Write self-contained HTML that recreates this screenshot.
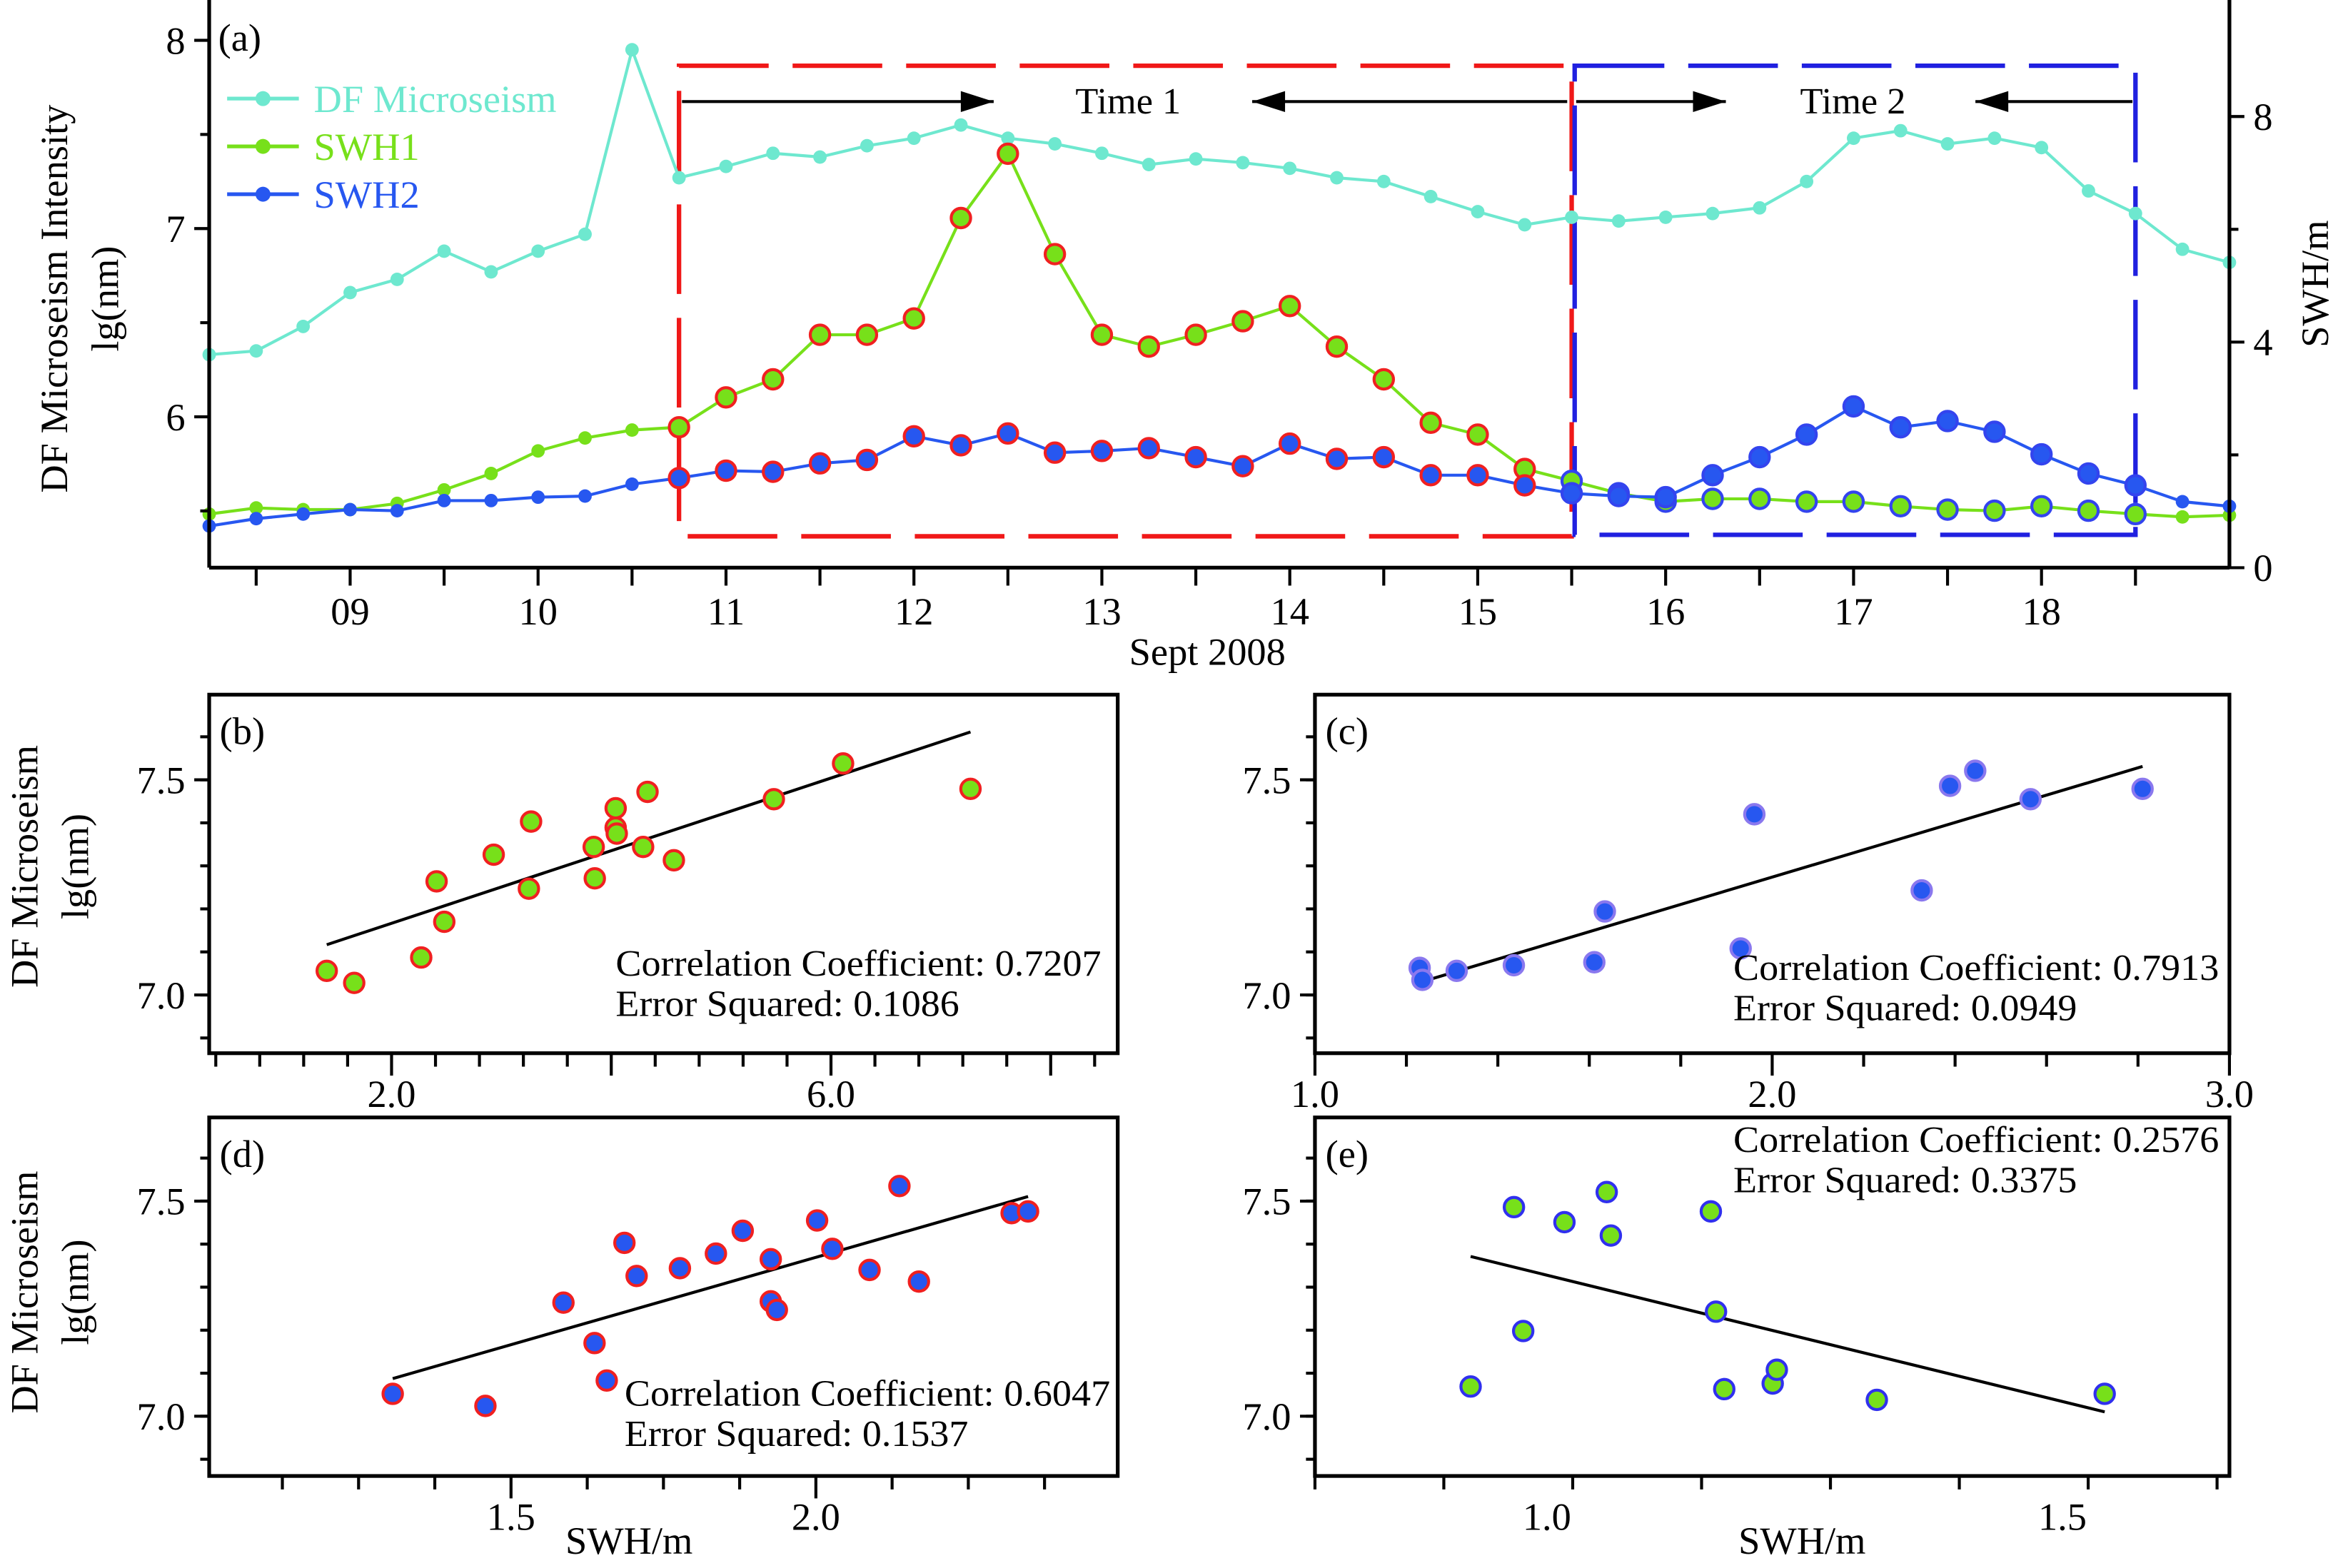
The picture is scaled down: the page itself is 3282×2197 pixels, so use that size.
<!DOCTYPE html>
<html><head><meta charset="utf-8"><style>
html,body{margin:0;padding:0;background:#fff;}
svg{display:block;font-family:"Liberation Serif",serif;}
</style></head><body>
<svg id="fig" width="3282" height="2197" viewBox="0 0 1568 1049.6" preserveAspectRatio="none" xmlns="http://www.w3.org/2000/svg"></svg>
<script>
// ---------- Panel (a) data ----------
const days = [];
for (let d = 8.25; d <= 19.001; d += 0.25) days.push(d);
const dfVals = [6.33,6.35,6.48,6.66,6.73,6.88,6.77,6.88,6.97,7.95,7.27,7.33,7.40,7.38,7.44,7.48,7.55,7.48,7.45,7.40,7.34,7.37,7.35,7.32,7.27,7.25,7.17,7.09,7.02,7.06,7.04,7.06,7.08,7.11,7.25,7.48,7.52,7.45,7.48,7.43,7.20,7.08,6.89,6.82];
const swh1Vals = [0.95,1.06,1.03,1.03,1.14,1.38,1.67,2.07,2.30,2.44,2.49,3.02,3.34,4.13,4.13,4.42,6.20,7.34,5.56,4.13,3.92,4.13,4.37,4.64,3.92,3.34,2.57,2.36,1.75,1.54,1.32,1.17,1.22,1.22,1.17,1.17,1.09,1.03,1.01,1.09,1.01,0.95,0.90,0.93];
const swh2Vals = [0.74,0.87,0.95,1.03,1.01,1.19,1.19,1.25,1.27,1.48,1.59,1.72,1.70,1.85,1.91,2.33,2.17,2.38,2.04,2.07,2.12,1.96,1.80,2.20,1.93,1.96,1.64,1.64,1.46,1.32,1.27,1.25,1.64,1.96,2.36,2.86,2.49,2.60,2.41,2.01,1.67,1.46,1.17,1.09];
const dayLabels = ["09","10","11","12","13","14","15","16","17","18"];
const leftTicks = [6,7,8];
const rightTicks = [0,4,8];
const time1 = [10.75,15.5];
const time2 = [15.5,18.5];

// ---------- Scatter data ----------
const bX = [1.41,1.66,2.27,2.41,2.48,2.93,3.25,3.27,3.84,3.85,4.04,4.04,4.05,4.29,4.33,4.57,5.48,6.11,7.27];
const bY = [7.056,7.028,7.087,7.264,7.170,7.326,7.247,7.403,7.344,7.271,7.389,7.434,7.375,7.344,7.472,7.313,7.455,7.538,7.479];
const cX = [1.229,1.235,1.31,1.435,1.611,1.634,1.931,1.961,2.327,2.389,2.444,2.565,2.81];
const cY = [7.063,7.035,7.056,7.069,7.076,7.194,7.108,7.420,7.243,7.486,7.521,7.455,7.479];
const dX = [1.306,1.458,1.586,1.637,1.657,1.686,1.706,1.777,1.836,1.880,1.926,1.926,1.936,2.002,2.027,2.088,2.137,2.169,2.321,2.348];
const dY = [7.052,7.024,7.264,7.17,7.083,7.403,7.326,7.344,7.378,7.431,7.365,7.267,7.247,7.455,7.389,7.340,7.535,7.313,7.472,7.476];
const eX = [0.926,0.968,0.977,1.017,1.058,1.062,1.159,1.164,1.172,1.219,1.223,1.320,1.541];
const eY = [7.069,7.486,7.198,7.451,7.521,7.420,7.476,7.243,7.063,7.076,7.108,7.038,7.052];

const NS = "http://www.w3.org/2000/svg";
const svg = document.getElementById("fig");
function el(tag, attrs, parent) {
  const e = document.createElementNS(NS, tag);
  for (const k in attrs) e.setAttribute(k, attrs[k]);
  (parent || svg).appendChild(e);
  return e;
}
function txt(s, x, y, size, attrs, parent) {
  const t = el("text", Object.assign({x:x, y:y, "font-size":size, fill:"#000"}, attrs || {}), parent);
  t.textContent = s;
  return t;
}

const C_DF = "#6ee8cf", C_G = "#77e01a", C_B = "#2757f0";

// ---------- Panel (a) ----------
const A = {x0:140, x1:1492, y0:0, y1:380};
const ax = d => A.x0 + (d - 8.25) / (19.0 - 8.25) * (A.x1 - A.x0);
const ayL = v => 27 + (8 - v) * 126;
const ayR = v => 380 - v * 37.75;
const ga = el("g", {});



// boxes
const b1 = el("rect", {x:ax(time1[0]), y:44, width:ax(time1[1])-ax(time1[0]), height:315, fill:"none", stroke:"#f01818", "stroke-width":3, "stroke-dasharray":"60,16"}, ga);


const b2 = el("rect", {x:ax(time2[0])+2, y:44, width:ax(time2[1])-ax(time2[0])-2, height:314, fill:"none", stroke:"#2020e0", "stroke-width":3, "stroke-dasharray":"60,16"}, ga);



// arrows
function arrow(x1, x2, y, name) {
  const g = el("g", {}, ga);
  
  
  el("line", {x1:x1, y1:y, x2:x2, y2:y, stroke:"#000", "stroke-width":2}, g);
  const dir = x2 > x1 ? 1 : -1;
  el("path", {d:`M${x2},${y} L${x2-dir*22},${y-7} L${x2-dir*22},${y+7} Z`, fill:"#000"}, g);
}
arrow(ax(time1[0])+2, 665, 68, "time1-arrow-right");
arrow(ax(time1[1])-3, 838, 68, "time1-arrow-left");
arrow(ax(time2[0])+3, 1155, 68, "time2-arrow-right");
arrow(ax(time2[1])-2, 1322, 68, "time2-arrow-left");
let t = txt("Time 1", 755, 76, 25, {"text-anchor":"middle"}, ga);
 
t = txt("Time 2", 1240, 76, 25, {"text-anchor":"middle"}, ga);
 

// series
function series(vals, yf, color, name, ringed) {
  const g = el("g", {}, ga);
  
  
  const pts = vals.map((v, i) => ax(days[i]).toFixed(1) + "," + yf(v).toFixed(1)).join(" ");
  el("polyline", {points:pts, fill:"none", stroke:color, "stroke-width":2}, g);
  vals.forEach((v, i) => {
    const d = days[i];
    let ring = null;
    if (ringed) {
      if (d >= time2[0] - 0.01 && d <= time2[1] + 0.01) ring = "#3344ee";
      else if (d >= time1[0] - 0.01 && d < time1[1]) ring = "#f02020";
    }
    const c = el("circle", {cx:ax(d), cy:yf(v), r: ring ? 6.5 : 4.5, fill:color, stroke: ring || "none", "stroke-width": ring ? 2 : 0}, g);
    
    
  });
}
series(dfVals, ayL, C_DF, "df-microseism-series", false);
series(swh1Vals, ayR, C_G, "swh1-series", true);
series(swh2Vals, ayR, C_B, "swh2-series", true);

// axes frame
el("line", {x1:A.x0, y1:0, x2:A.x0, y2:A.y1, stroke:"#000", "stroke-width":2.5}, ga);
el("line", {x1:A.x1, y1:0, x2:A.x1, y2:A.y1, stroke:"#000", "stroke-width":2.5}, ga);
el("line", {x1:A.x0, y1:A.y1, x2:A.x1, y2:A.y1, stroke:"#000", "stroke-width":2.5}, ga);
for (let d = 8.5; d <= 18.76; d += 0.5) {
  const major = Math.abs(d - Math.round(d)) < 0.01;
  el("line", {x1:ax(d), y1:A.y1, x2:ax(d), y2:A.y1 + (major ? 12 : 12), stroke:"#000", "stroke-width":2}, ga);
}
dayLabels.forEach((s, i) => {
  const l = txt(s, ax(9 + i), 418, 26, {"text-anchor":"middle"}, ga);
   
});
t = txt("Sept 2008", 808, 445, 26, {"text-anchor":"middle"}, ga);
 
leftTicks.forEach(v => {
  el("line", {x1:A.x0-10, y1:ayL(v), x2:A.x0, y2:ayL(v), stroke:"#000", "stroke-width":2}, ga);
  const l = txt(String(v), A.x0-16, ayL(v)+9, 26, {"text-anchor":"end"}, ga);
   
});
[5.5,6.5,7.5].forEach(v => el("line", {x1:A.x0-6, y1:ayL(v), x2:A.x0, y2:ayL(v), stroke:"#000", "stroke-width":2}, ga));
rightTicks.forEach(v => {
  el("line", {x1:A.x1, y1:ayR(v), x2:A.x1+10, y2:ayR(v), stroke:"#000", "stroke-width":2}, ga);
  const l = txt(String(v), A.x1+16, ayR(v)+9, 26, {}, ga);
   
});
[2,6].forEach(v => el("line", {x1:A.x1, y1:ayR(v), x2:A.x1+6, y2:ayR(v), stroke:"#000", "stroke-width":2}, ga));
t = txt("DF Microseism Intensity", 0, 0, 26, {"text-anchor":"middle", transform:"translate(45,200) rotate(-90)"}, ga);
 
t = txt("lg(nm)", 0, 0, 26, {"text-anchor":"middle", transform:"translate(79,200) rotate(-90)"}, ga);
 
t = txt("SWH/m", 0, 0, 26, {"text-anchor":"middle", transform:"translate(1558,190) rotate(-90)"}, ga);
 
t = txt("(a)", 146, 34, 26, {}, ga);
 

// legend
[["DF Microseism", C_DF, 66], ["SWH1", C_G, 98], ["SWH2", C_B, 130]].forEach(([s, c, y]) => {
  const g = el("g", {}, ga);
  
  
  el("line", {x1:152, y1:y, x2:200, y2:y, stroke:c, "stroke-width":2.5}, g);
  el("circle", {cx:176, cy:y, r:5, fill:c}, g);
  txt(s, 210, y+9, 26, {fill:c}, g);
});

// ---------- Scatter panels ----------
function scatter(o) {
  const g = el("g", {});
  
  
  const sx = v => o.x0 + (v - o.xmin) / (o.xmax - o.xmin) * (o.x1 - o.x0);
  const sy = v => o.y7 - (v - 7.0) / 0.5 * 144;
  el("rect", {x:o.x0, y:o.y0, width:o.x1-o.x0, height:o.y1-o.y0, fill:"none", stroke:"#000", "stroke-width":2.5}, g);
  // y ticks
  for (let v = 6.8; v <= 7.75; v += 0.1) {
    const yy = sy(v);
    if (yy < o.y0 || yy > o.y1) continue;
    el("line", {x1:o.x0-6, y1:yy, x2:o.x0, y2:yy, stroke:"#000", "stroke-width":2}, g);
  }
  [7.0, 7.5].forEach(v => {
    el("line", {x1:o.x0-10, y1:sy(v), x2:o.x0, y2:sy(v), stroke:"#000", "stroke-width":2}, g);
    const l = txt(v.toFixed(1), o.x0-16, sy(v)+9, 26, {"text-anchor":"end"}, g);
     
  });
  // x ticks
  for (let v = o.tStart; v <= o.xmax + 1e-6; v += o.tStep) {
    const xx = sx(v);
    if (xx < o.x0 - 0.5 || xx > o.x1 + 0.5) continue;
    const major = o.majors.some(m => Math.abs(m - v) < 1e-6);
    el("line", {x1:xx, y1:o.y1, x2:xx, y2:o.y1 + (major ? 15 : 9), stroke:"#000", "stroke-width":2}, g);
  }
  o.labels.forEach(v => {
    const l = txt(v.toFixed(1), sx(v), o.y1+36, 26, {"text-anchor":"middle"}, g);
     
  });
  // regression
  const n = o.X.length;
  const mx = o.X.reduce((a,b)=>a+b,0)/n, my = o.Y.reduce((a,b)=>a+b,0)/n;
  let sxy=0, sxx=0;
  for (let i=0;i<n;i++){ sxy+=(o.X[i]-mx)*(o.Y[i]-my); sxx+=(o.X[i]-mx)**2; }
  const k = sxy/sxx, b0 = my - k*mx;
  const xa = Math.min(...o.X), xb = Math.max(...o.X);
  const fit = el("line", {x1:sx(xa), y1:sy(k*xa+b0), x2:sx(xb), y2:sy(k*xb+b0), stroke:"#000", "stroke-width":2}, g);
  
  
  o.X.forEach((v, i) => {
    const c = el("circle", {cx:sx(v), cy:sy(o.Y[i]), r:6.5, fill:o.fill, stroke:o.ring, "stroke-width":2}, g);
    
    
  });
  const l = txt(o.tag, o.x0+7, o.y0+33, 26, {}, g);
   
  const s1 = txt("Correlation Coefficient: " + o.cc, o.tx, o.ty, 25, {textLength:325, lengthAdjust:"spacingAndGlyphs"}, g);
   
  const s2 = txt("Error Squared: " + o.es, o.tx, o.ty+27, 25, {textLength:o.tw2, lengthAdjust:"spacingAndGlyphs"}, g);
   
}
scatter({name:"panel-b", tag:"(b)", x0:140, x1:748, y0:465, y1:705, y7:666, xmin:0.34, xmax:8.61, tStart:0.4, tStep:0.4, majors:[2,4,6,8], labels:[2.0,6.0], X:bX, Y:bY, fill:C_G, ring:"#f02020", cc:"0.7207", es:"0.1086", tx:412, ty:653, tw2:230});
scatter({name:"panel-c", tag:"(c)", x0:880, x1:1492, y0:465, y1:705, y7:666, xmin:1.0, xmax:3.0, tStart:1.0, tStep:0.2, majors:[1,2,3], labels:[1.0,2.0,3.0], X:cX, Y:cY, fill:C_B, ring:"#8a78ee", cc:"0.7913", es:"0.0949", tx:1160, ty:656, tw2:230});
scatter({name:"panel-d", tag:"(d)", x0:140, x1:748, y0:748, y1:988, y7:948, xmin:1.005, xmax:2.495, tStart:1.0, tStep:0.125, majors:[1.5,2.0], labels:[1.5,2.0], X:dX, Y:dY, fill:C_B, ring:"#f02020", cc:"0.6047", es:"0.1537", tx:418, ty:941, tw2:230});
scatter({name:"panel-e", tag:"(e)", x0:880, x1:1492, y0:748, y1:988, y7:948, xmin:0.775, xmax:1.662, tStart:0.775, tStep:0.125, majors:[1.0,1.5], labels:[1.0,1.5], X:eX, Y:eY, fill:C_G, ring:"#3030ee", cc:"0.2576", es:"0.3375", tx:1160, ty:771, tw2:230});

// side titles for scatter rows
[[580,"b"],[865,"d"]].forEach(([cy, p]) => {
  let a = txt("DF  Microseism", 0, 0, 26, {"text-anchor":"middle", transform:`translate(25,${cy}) rotate(-90)`});
   
  a = txt("lg(nm)", 0, 0, 26, {"text-anchor":"middle", transform:`translate(59,${cy}) rotate(-90)`});
   
});
t = txt("SWH/m", 421, 1040, 26, {"text-anchor":"middle"});
 
t = txt("SWH/m", 1206, 1040, 26, {"text-anchor":"middle"});
 
</script>
</body></html>
